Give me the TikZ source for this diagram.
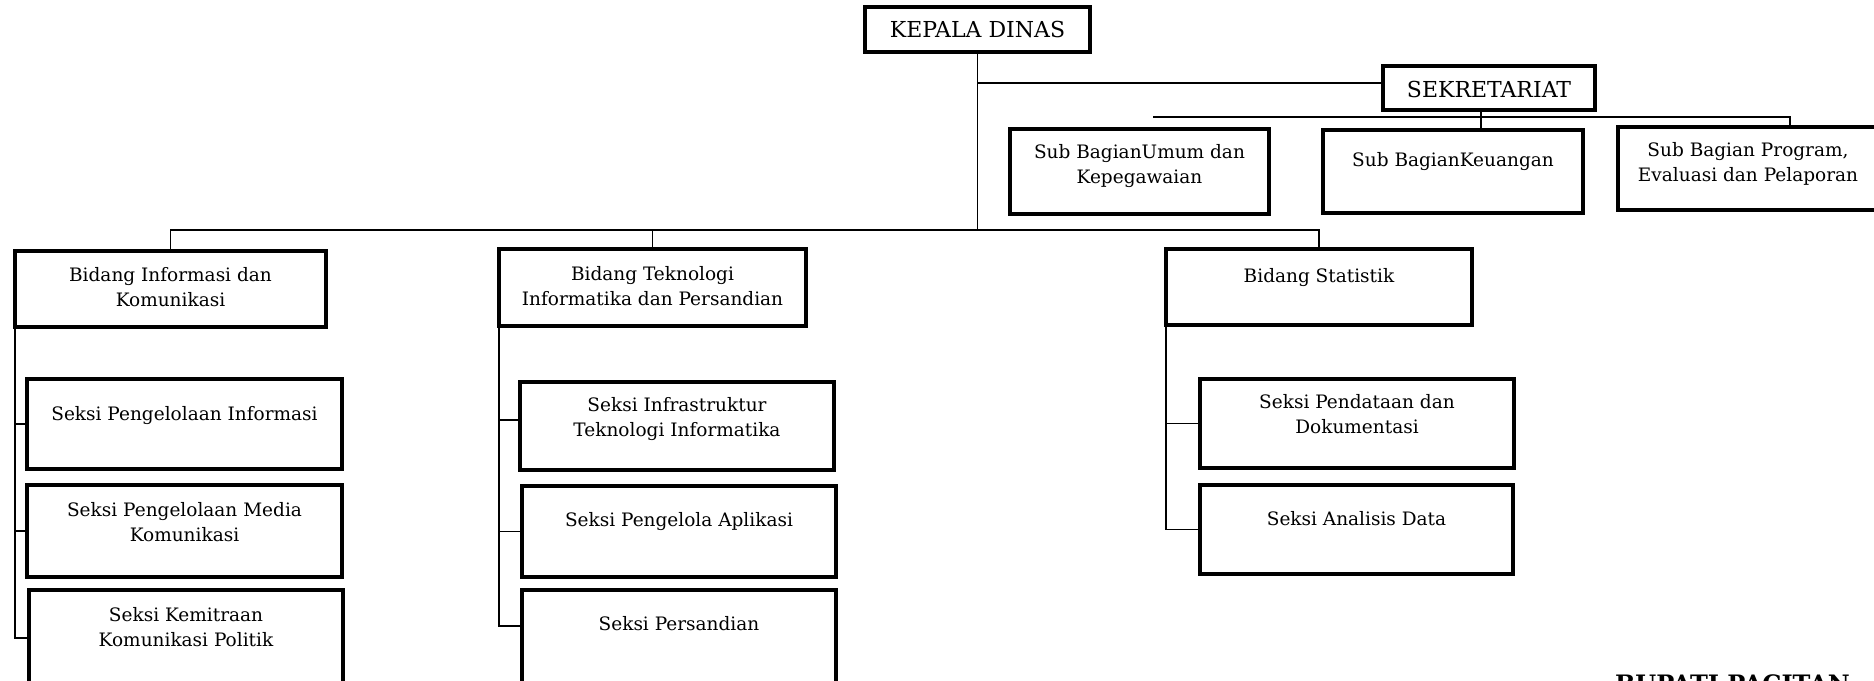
\documentclass[tikz,border=0pt]{standalone}
\usepackage{fontspec}
\setmainfont{DejaVu Serif}
\newcommand\obox[5]{\node[box, minimum width={(#4-#2)*1pt}, minimum height={(#5-#3)*1pt}] (#1) at ({(#2+#4)/2},{(#3+#5)/2}) {};}
\begin{document}
\begin{tikzpicture}[x=1pt,y=-1pt,
  box/.style={draw, line width=3.4pt, inner sep=0pt, outer sep=0pt},
  txt/.style={inner sep=0pt, align=center, anchor=north, font=\fontsize{18.5}{25}\selectfont},
  big/.style={inner sep=0pt, font=\fontsize{22}{26}\selectfont},
  link/.style={line width=1.5pt}]
\useasboundingbox (0,0) rectangle (1874,680);
\clip (0,0) rectangle (1874,680);

% boxes
\obox{kd}{865}{7}{1090}{52}
\obox{sek}{1383}{66}{1595}{110}
\obox{umum}{1010}{129}{1269}{214}
\obox{keu}{1323}{130}{1583}{213}
\obox{prog}{1618}{127}{1885}{210}
\obox{bi}{15}{251}{326}{327}
\obox{bt}{499}{249}{806}{326}
\obox{bs}{1166}{249}{1472}{325}
\obox{s1}{27}{379}{342}{469}
\obox{s2}{27}{485}{342}{577}
\obox{s3}{29}{590}{343}{686}
\obox{t1}{520}{382}{834}{470}
\obox{t2}{522}{486}{836}{577}
\obox{t3}{522}{590}{836}{686}
\obox{d1}{1200}{379}{1514}{468}
\obox{d2}{1200}{485}{1513}{574}

% texts
\node[big] (kd-t) at (kd.center) {KEPALA DINAS};
\node[big] (sek-t) at ([yshift=-1pt]sek.center) {SEKRETARIAT};
\node[txt] (umum-t) at (1139.5,144) {Sub BagianUmum dan\\Kepegawaian};
\node[txt] (keu-t) at (1453,152) {Sub BagianKeuangan};
\node[txt] (prog-t) at (1748,142) {Sub Bagian Program,\\Evaluasi dan Pelaporan};
\node[txt] (bi-t) at (170.5,267) {Bidang Informasi dan\\Komunikasi};
\node[txt] (bt-t) at (652.5,266) {Bidang Teknologi\\Informatika dan Persandian};
\node[txt] (bs-t) at (1319,268) {Bidang Statistik};
\node[txt] (s1-t) at (184.5,406) {Seksi Pengelolaan Informasi};
\node[txt] (s2-t) at (184.5,502) {Seksi Pengelolaan Media\\Komunikasi};
\node[txt] (s3-t) at (186,607) {Seksi Kemitraan\\Komunikasi Politik};
\node[txt] (t1-t) at (677,397) {Seksi Infrastruktur\\Teknologi Informatika};
\node[txt] (t2-t) at (679,512) {Seksi Pengelola Aplikasi};
\node[txt] (t3-t) at (679,616) {Seksi Persandian};
\node[txt] (d1-t) at (1357,394) {Seksi Pendataan dan\\Dokumentasi};
\node[txt] (d2-t) at (1356.5,511) {Seksi Analisis Data};
\node[inner sep=0pt, anchor=base west, font=\fontsize{24}{28}\selectfont\bfseries] (bup) at (1615,692) {BUPATI PACITAN};

% connectors
\coordinate (bus) at (974,230);
\draw[link] (kd.south) -- (kd.south |- bus);
\coordinate (sekin) at ([yshift=5pt]sek.west);
\draw[link] (sekin) -- (kd.south |- sekin);
\coordinate (subL) at (1153,117);
\coordinate (subR) at (1790,117);
\draw[link] (subL) -- (subR) -- (subR |- prog.north);
\draw[link] ([xshift=-8pt]sek.south) -- ([xshift=-8pt]sek.south |- keu.north);
\draw[link] (bi.north) -- (bi.north |- bus) -- (bs.north |- bus) -- (bs.north);
\draw[link] (bt.north) -- (bt.north |- bus);

\draw[link] (bi.south west) -- (bi.south west |- s3.west) -- (s3.west);
\draw[link] (bi.south west |- s1.west) -- (s1.west);
\draw[link] (bi.south west |- s2.west) -- (s2.west);

\coordinate (t1in) at ([yshift=6pt]t1.west);
\coordinate (t3in) at ([yshift=12pt]t3.west);
\draw[link] (bt.south west) -- (bt.south west |- t3in) -- (t3in);
\draw[link] (bt.south west |- t1in) -- (t1in);
\draw[link] (bt.south west |- t2.west) -- (t2.west);

\draw[link] (bs.south west) -- (bs.south west |- d2.west) -- (d2.west);
\draw[link] (bs.south west |- d1.west) -- (d1.west);
\end{tikzpicture}
\end{document}
